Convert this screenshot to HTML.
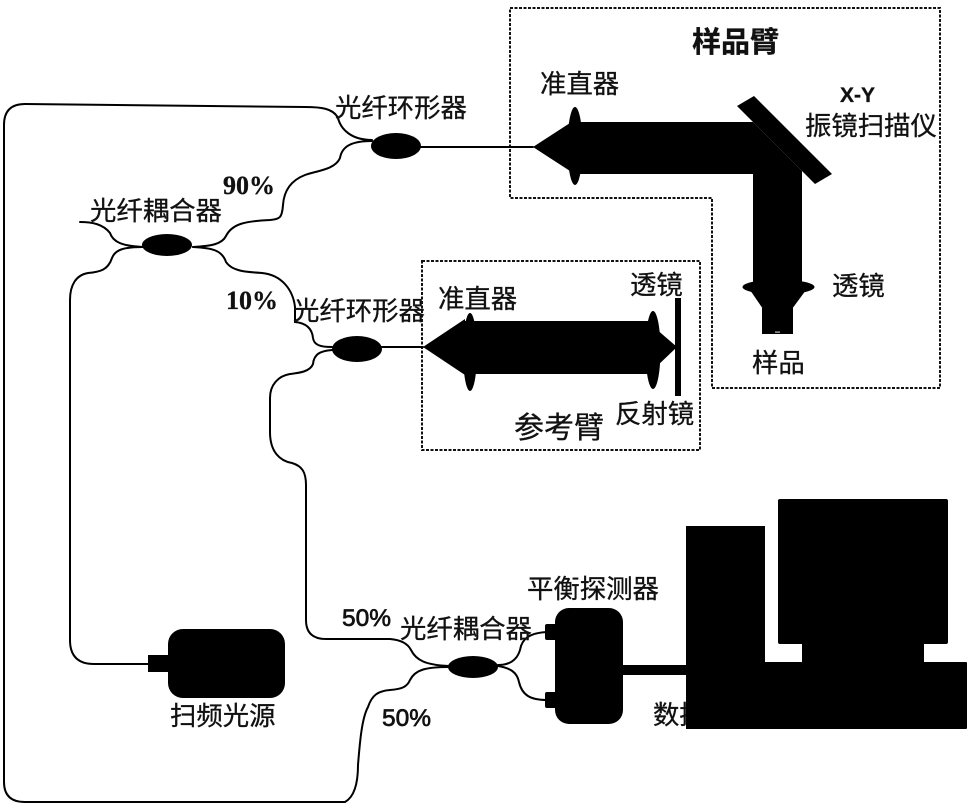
<!DOCTYPE html>
<html>
<head>
<meta charset="utf-8">
<style>
html,body{margin:0;padding:0;background:#fff;}
svg{display:block;}
text{font-family:"Liberation Sans","Noto Sans CJK SC",sans-serif;fill:#111;font-size:26.4px;stroke:#111;stroke-width:.3;}
.b{font-family:"Liberation Serif",serif;font-weight:bold;font-size:26px;}
.s{font-family:"Liberation Sans",sans-serif;font-size:24.5px;stroke-width:.7;}
.f{fill:none;stroke:#000;stroke-width:2;stroke-linecap:round;}
.d{fill:none;stroke:#111;stroke-width:2;stroke-dasharray:3 1.5;}
</style>
</head>
<body>
<svg width="973" height="811" viewBox="0 0 973 811" xmlns="http://www.w3.org/2000/svg">
<rect width="973" height="811" fill="#fff"/>

<!-- dashed boxes -->
<path class="d" d="M510 8H940V388H712V198H510Z"/>
<rect class="d" x="422" y="261" width="278" height="189"/>

<!-- fibers -->
<path class="f" d="M372 140 C352 140 341 130 338 118 C333 108 320 107 305 107 L25 104 Q4 104 4 125 L4 782 Q4 802 25 802 L345 802 C354 797 358 785 358 765 C360 740 362 718 368 707 C372 695 378 691 390 690 C402 689 407 687 410 680 C415 670 425 667 449 667"/>
<path class="f" d="M372 141 C352 141 342 146 340 158 C335 170 315 171 305 175 C292 180 284 190 283 205 C282 218 280 219 270 220 C245 221 232 224 226 236 C222 244 212 246 193 247"/>
<path class="f" d="M80 222 C92 222 103 224 110 233 C113 242 122 246 143 247"/>
<path class="f" d="M143 247 C123 247 115 250 112 258 C108 270 100 272 88 273 C76 275 70 285 70 300 L70 640 Q70 664 94 664 L148 664"/>
<path class="f" d="M193 247 C212 248 222 250 226 262 C232 271 245 272 262 273 C282 275 293 290 295 307 L295 322 C306 323 312 328 313 338 C314 345 320 347 332 347"/>
<path class="f" d="M332 350 C320 351 314 354 313 364 C310 372 298 373 290 374 C278 376 270 385 270 398 L270 432 C270 452 280 461 292 463 C302 466 306 472 306 485 L306 620 Q306 639 326 639 L390 639 C402 640 408 644 411 650 C416 660 425 665 449 666"/>
<path class="f" d="M498 665 C510 665 517 660 520 650 C522 638 530 633 547 632"/>
<path class="f" d="M498 666 C510 668 517 672 519 682 C522 695 530 700 547 700"/>
<line class="f" x1="420" y1="147" x2="533" y2="147"/>
<line class="f" x1="382" y1="347" x2="423" y2="347"/>

<!-- couplers -->
<ellipse cx="396" cy="146" rx="25" ry="13" fill="#000"/>
<ellipse cx="167" cy="245" rx="25" ry="11" fill="#000"/>
<ellipse cx="357" cy="349" rx="25" ry="13" fill="#000"/>
<ellipse cx="473" cy="667" rx="25" ry="11" fill="#000"/>

<!-- sample arm optics -->
<polygon points="533,147 570,123 570,171" fill="#000"/>
<ellipse cx="575" cy="146" rx="7.5" ry="39" fill="#000"/>
<polygon points="570,122 753,122 802,171 802,293 753,293 753,174 570,174" fill="#000"/>
<polygon points="737,106 754,96 832,174 815,184" fill="#000"/>
<ellipse cx="778.5" cy="287" rx="36" ry="7.5" fill="#000"/>
<polygon points="750,290 806,290 792,309 763,309" fill="#000"/>
<rect x="762" y="308" width="31" height="26" fill="#000"/>
<rect x="775" y="331.5" width="5" height="1.2" fill="#bbb"/>

<!-- reference arm optics -->
<polygon points="423,347 465,319 465,375" fill="#000"/>
<ellipse cx="470" cy="352" rx="7" ry="39" fill="#000"/>
<rect x="465" y="321" width="190" height="53" fill="#000"/>
<ellipse cx="653" cy="350" rx="7.5" ry="39" fill="#000"/>
<polygon points="655,328 677,347 655,368" fill="#000"/>
<rect x="675" y="298" width="6" height="98" fill="#000"/>

<!-- light source -->
<rect x="168" y="629" width="117" height="69" rx="15" fill="#000"/>
<rect x="148" y="655" width="22" height="17" fill="#000"/>

<!-- detector -->
<rect x="555" y="608" width="68" height="116" rx="14" fill="#000"/>
<rect x="545" y="624" width="12" height="16" rx="2" fill="#000"/>
<rect x="545" y="692" width="12" height="16" rx="2" fill="#000"/>
<rect x="620" y="665" width="70" height="10" fill="#000"/>

<!-- label partly hidden behind computer -->
<text x="653" y="724">数据采集及处理</text>

<!-- computer -->
<rect x="686" y="526" width="79" height="203" fill="#000"/>
<rect x="778" y="499" width="170" height="145" rx="2" fill="#000"/>
<rect x="802" y="640" width="122" height="25" fill="#000"/>
<rect x="760" y="662" width="207" height="67" rx="1" fill="#000"/>

<!-- labels -->
<text x="335" y="117">光纤环形器</text>
<text x="90" y="220">光纤耦合器</text>
<text x="293" y="320">光纤环形器</text>
<text x="400" y="638">光纤耦合器</text>
<text x="527" y="598">平衡探测器</text>
<text x="540" y="93">准直器</text>
<text x="438" y="308">准直器</text>
<text x="692" y="52" style="font-size:29px;font-weight:bold">样品臂</text>
<text x="840" y="102" style="font-family:'Liberation Sans',sans-serif;font-weight:bold;font-size:21px">X-Y</text>
<text x="805" y="135">振镜扫描仪</text>
<text x="832" y="295">透镜</text>
<text x="630" y="294">透镜</text>
<text x="752" y="372">样品</text>
<text x="615" y="423">反射镜</text>
<text x="514" y="438" style="font-size:30px">参考臂</text>
<text x="170" y="725">扫频光源</text>
<text class="b" x="223" y="194">90%</text>
<text class="b" x="226" y="309">10%</text>
<text class="s" x="342" y="626">50%</text>
<text class="s" x="382" y="726">50%</text>
</svg>
</body>
</html>
